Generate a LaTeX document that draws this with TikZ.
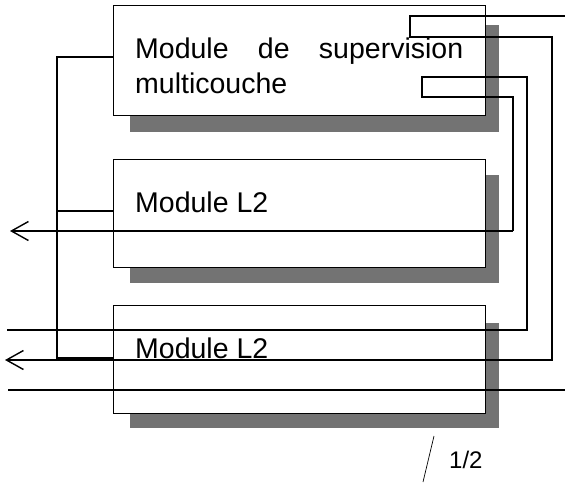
\documentclass[tikz,border=0pt]{standalone}
\usepackage{fontspec}
\setmainfont{Liberation Sans}
\usetikzlibrary{arrows.meta}
\begin{document}
\begin{tikzpicture}[x=1pt,y=-1pt,
  box/.style={draw, line width=1.3pt, fill=white, anchor=north west, inner sep=0pt, minimum width=372pt},
  shadowfill/.style={fill=black!55},
  wire/.style={line width=1.4pt},
  lbl/.style={anchor=base west, inner sep=0pt, font=\fontsize{28.5}{34}\selectfont},
  tipstyle/.style={-{Straight Barb[length=17pt,width=19pt]}}
]
\useasboundingbox (0,0) rectangle (565,483);
% shadows
\fill[shadowfill] (130,25) rectangle (499,132);
\fill[shadowfill] (130,175) rectangle (499,283);
\fill[shadowfill] (130,323) rectangle (499,428);
% boxes
\node[box, minimum height=110pt] (sup) at (113,5) {};
\node[box, minimum height=108pt] (mid) at (113,159) {};
\node[box, minimum height=108pt] (bot) at (113,305) {};
% labels
\node[lbl] (supt) at (135,58) {\makebox[328pt][s]{Module de supervision}};
\node[lbl] (supt2) at (135,93) {multicouche};
\node[lbl] (midt) at (135,212) {Module L2};
\node[lbl] (bott) at (135,358) {Module L2};
% left bus
\coordinate (l1) at (57,57);
\coordinate (l2) at (57,211);
\coordinate (l3) at (57,358);
\draw[wire] (l1 -| sup.west) -- (l1) -- (l3) -- (l3 -| bot.west);
\draw[wire] (l2) -- (l2 -| mid.west);
% path 1
\coordinate (p1a) at (565,16);
\coordinate (p1b) at (410,37);
\coordinate (p1c) at (552,360);
\coordinate (p1end) at (5,360);
\draw[wire,tipstyle] (p1a) -| (p1b) -| (p1c) -- (p1end);
% path 2
\coordinate (p2a) at (7,330);
\coordinate (p2b) at (527,77);
\coordinate (p2c) at (422,97);
\coordinate (p2d) at (513,231);
\coordinate (p2end) at (10,231);
\draw[wire] (p2a) -| (p2b) -| (p2c) -| (p2d);
\draw[wire,tipstyle] (p2d) -- (p2end);
% bottom line
\coordinate (b1) at (8,390);
\coordinate (b2) at (565,390);
\draw[wire] (b1) -- (b2);
% handwritten page mark
\coordinate (s1) at (423,482);
\coordinate (s2) at (434,436);
\draw[line width=0.7pt] (s1) -- (s2);
\node[anchor=base west, inner sep=0pt, font=\fontsize{24}{24}\selectfont] (pg) at (449,468) {1/2};
\end{tikzpicture}
\end{document}
